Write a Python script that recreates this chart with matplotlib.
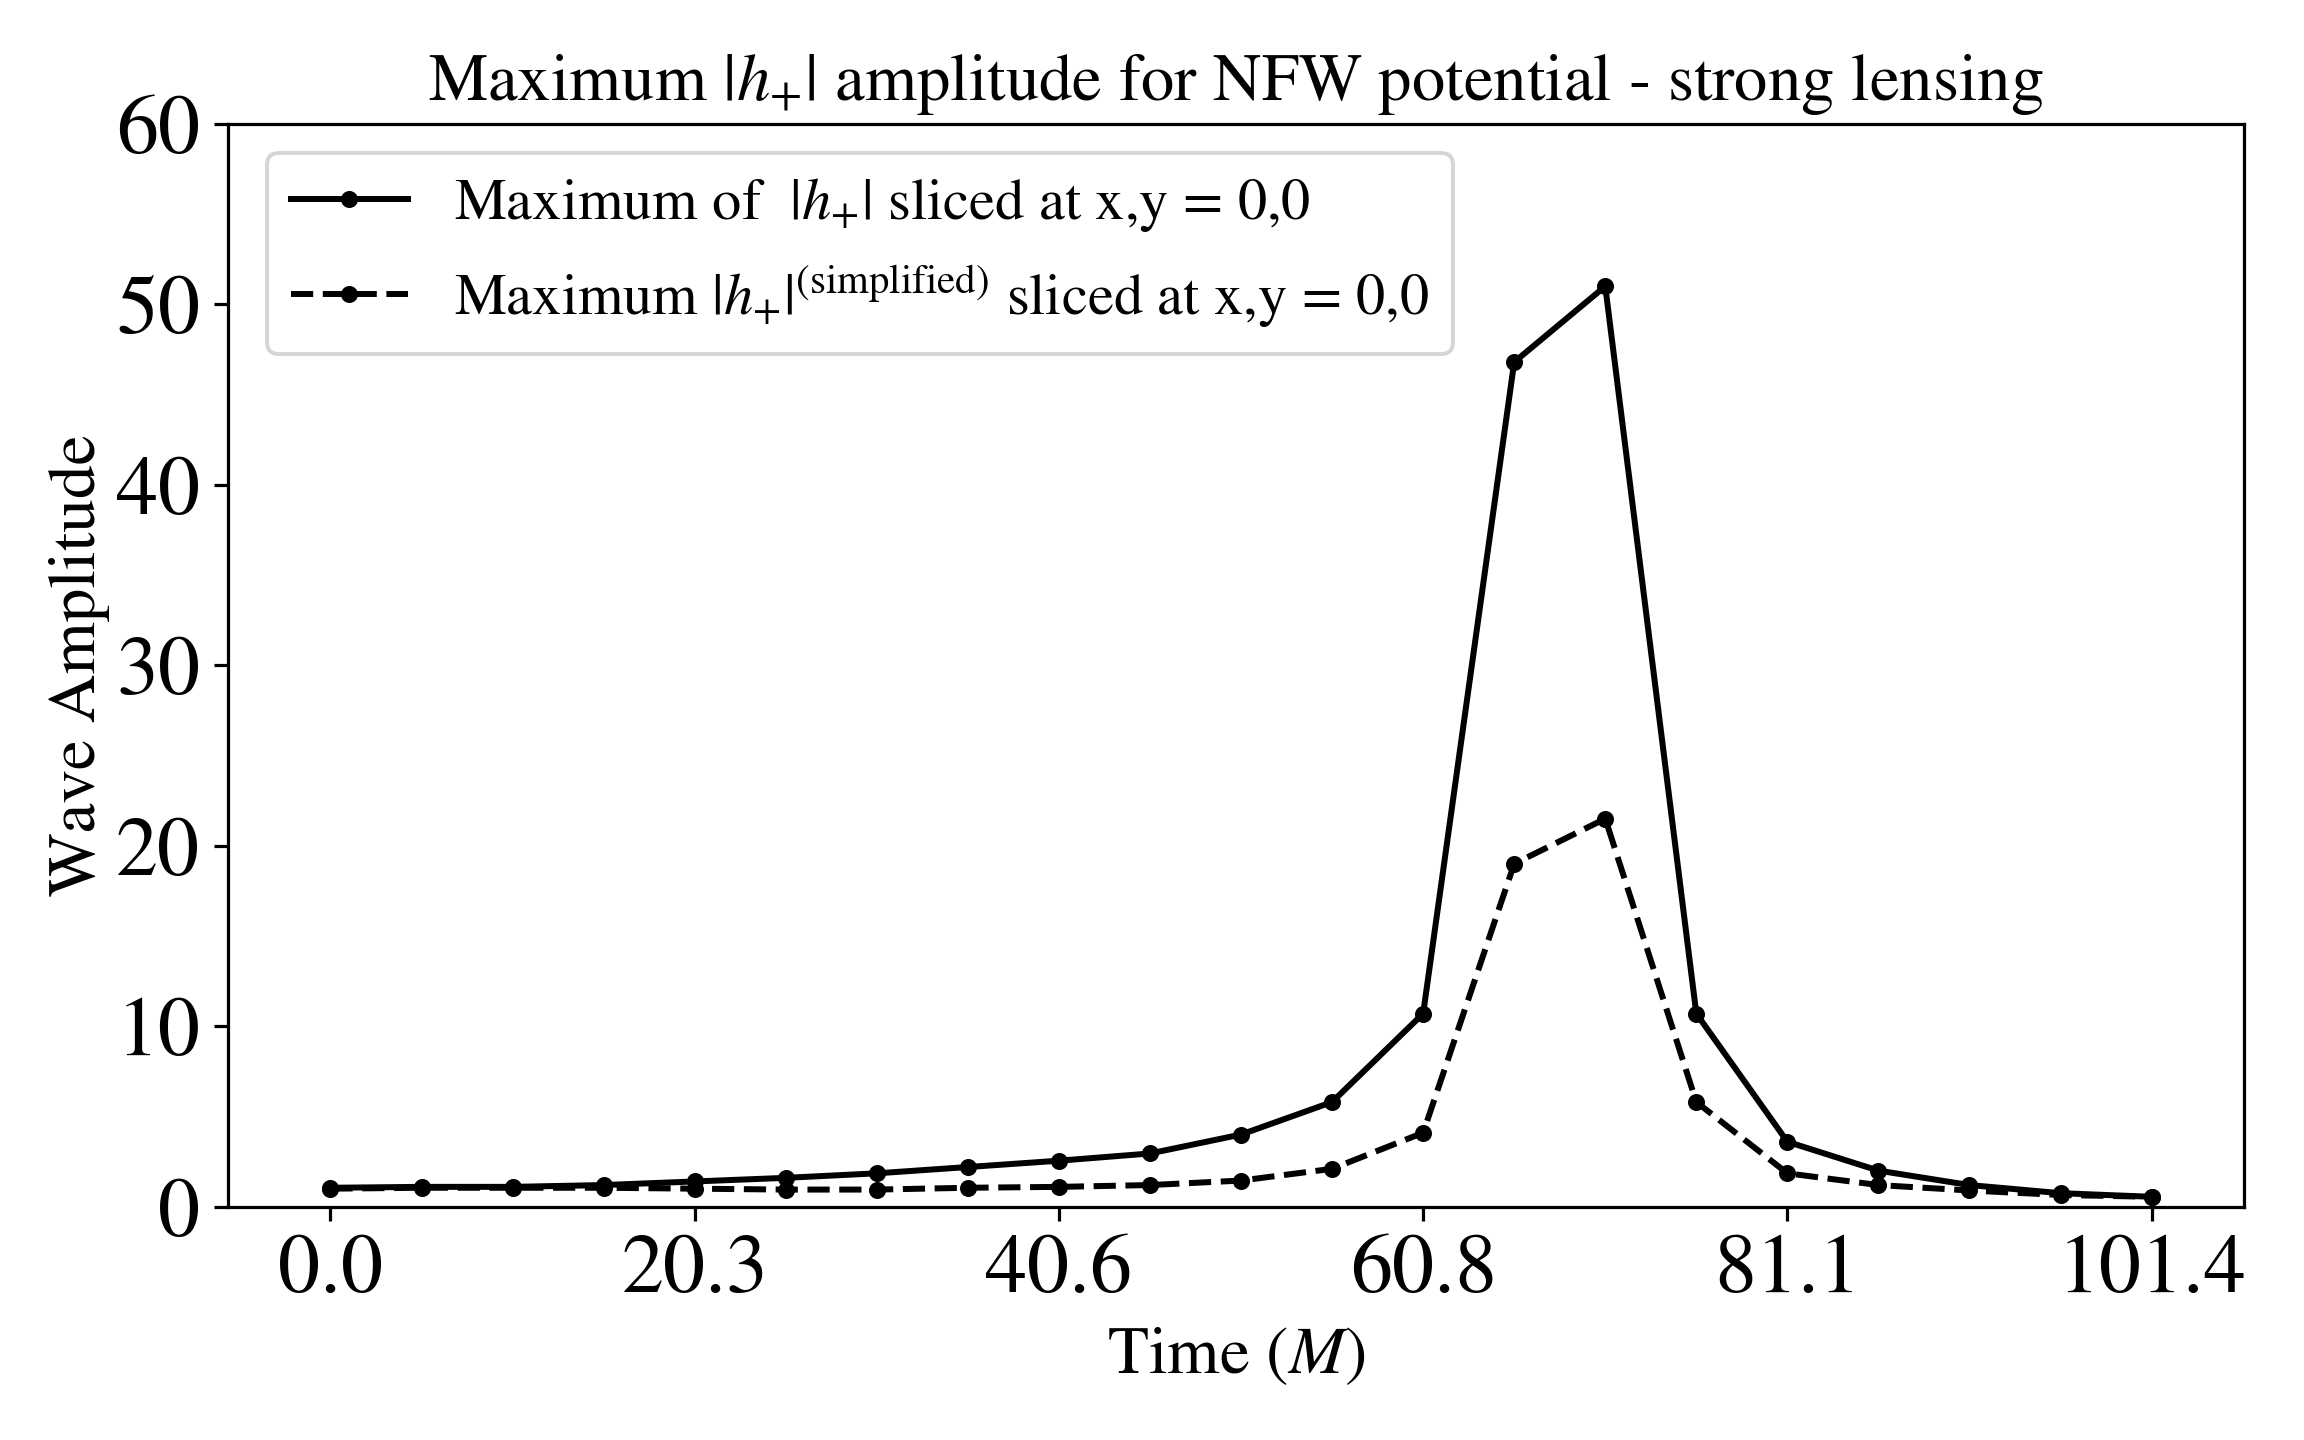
import numpy as np
import matplotlib.pyplot as plt

plt.rcParams['font.family'] = 'STIXGeneral'
plt.rcParams['mathtext.fontset'] = 'stix'

# Time samples (in units of M)
time = [0.0, 5.07, 10.14, 15.21, 20.28, 25.35, 30.42, 35.49, 40.56, 45.63, 50.7,
        55.77, 60.84, 65.91, 70.98, 76.05, 81.12, 86.19, 91.26, 96.33, 101.4]

# Maximum |h+| sliced at x,y = 0,0
h_max = [1.05, 1.1, 1.1, 1.2, 1.4, 1.6, 1.85, 2.2, 2.55, 2.95, 4.0,
         5.8, 10.7, 46.8, 51.0, 10.7, 3.6, 2.0, 1.2, 0.75, 0.55]

# Maximum |h+| (simplified) sliced at x,y = 0,0
h_simpl = [1.0, 1.05, 1.05, 1.05, 1.0, 0.95, 0.95, 1.05, 1.1, 1.2, 1.45,
           2.1, 4.1, 19.0, 21.5, 5.8, 1.85, 1.2, 0.9, 0.65, 0.55]

xtick_pos = [0.0, 20.28, 40.56, 60.84, 81.12, 101.4]

fig, ax = plt.subplots(figsize=(8, 5), dpi=288)
fig.subplots_adjust(left=0.099, right=0.974, top=0.914, bottom=0.162)

ax.plot(time, h_max, '.-', color='black', linewidth=1.5, markersize=6.5,
        label=r'Maximum of  $|h_{+}|$ sliced at x,y = 0,0')
ax.plot(time, h_simpl, '.--', color='black', linewidth=1.5, markersize=6.5,
        label=r'Maximum $|h_{+}|^{\rm (simplified)}$ sliced at x,y = 0,0')

ax.set_xlim(-5.7, 106.55)
ax.set_ylim(0, 60)
ax.set_xticks(xtick_pos)
ax.set_xticklabels([f"{t:.1f}" for t in xtick_pos])
ax.tick_params(labelsize=21)

ax.set_title(r'Maximum $|h_{+}|$ amplitude for NFW potential - strong lensing', fontsize=16.7)
ax.set_xlabel(r'Time ($M$)', fontsize=16.8)
ax.set_ylabel('Wave Amplitude', fontsize=16.8, labelpad=1.5)
ax.legend(loc='upper left', bbox_to_anchor=(0.005, 1.0), fontsize=14.6)

plt.savefig('out.png')
